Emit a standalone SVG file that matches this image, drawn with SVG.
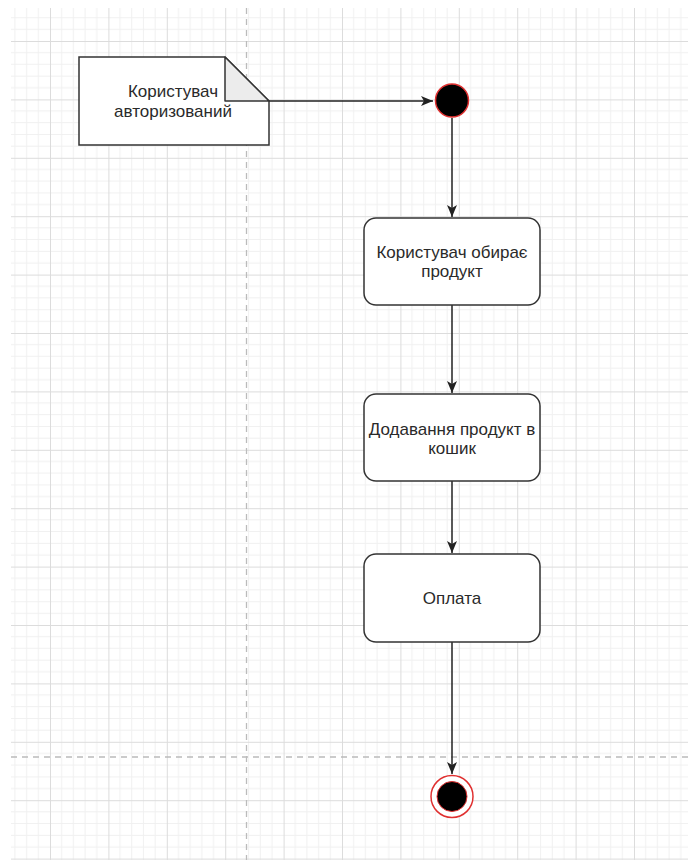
<svg xmlns="http://www.w3.org/2000/svg" width="688" height="860" viewBox="0 0 688 860">
<style>
.txt{font-family:"Liberation Sans",Arial,sans-serif;font-size:17px;fill:#2a2a2a;text-anchor:middle}
.box{fill:#fff;stroke:#333;stroke-width:1.5}
.edge{stroke:#222;stroke-width:1.5;fill:none}
.dash{stroke:#bbb;stroke-width:1.3;stroke-dasharray:6 5;fill:none}
</style>
<defs>
<pattern id="grid" patternUnits="userSpaceOnUse" x="-8.4" y="-17.4" width="58.4" height="58.4">
<path d="M11.68 0V58.4M23.36 0V58.4M35.04 0V58.4M46.72 0V58.4M0 11.68H58.4M0 23.36H58.4M0 35.04H58.4M0 46.72H58.4" stroke="#f0f0f0" stroke-width="1" fill="none"/>
<path d="M0.5 0V58.4M0 0.5H58.4" stroke="#dcdcdc" stroke-width="1" fill="none"/>
</pattern>
<marker id="arr" viewBox="0 0 12 10" refX="12" refY="5" markerWidth="12" markerHeight="10" markerUnits="userSpaceOnUse" orient="auto">
<path d="M0 0L12 5L0 10L3 5Z" fill="#222"/>
</marker>
</defs>
<rect width="688" height="860" fill="#fff"/>
<rect x="11" y="8" width="677" height="852" fill="url(#grid)"/>
<path class="dash" d="M246.5 8V860M11 757H688"/>
<g id="connectors">
<path class="edge" d="M269 101H433" marker-end="url(#arr)"/>
<path class="edge" d="M452 118V217" marker-end="url(#arr)"/>
<path class="edge" d="M452 305V393" marker-end="url(#arr)"/>
<path class="edge" d="M452 481V553" marker-end="url(#arr)"/>
<path class="edge" d="M452 642V774" marker-end="url(#arr)"/>
</g>
<g id="note">
<path d="M79 57H225L269 101V145H79Z" fill="#fff" stroke="#333" stroke-width="1.5"/>
<path d="M225 57V101H269Z" fill="#ececec" stroke="#333" stroke-width="1.5" stroke-linejoin="round"/>
<text class="txt" x="173" y="97">Користувач</text>
<text class="txt" x="173" y="117">авторизований</text>
</g>
<g id="start">
<circle cx="452" cy="100.5" r="16.5" fill="#000" stroke="#e03030" stroke-width="1.5"/>
</g>
<g id="n1">
<rect class="box" x="364" y="218" width="176" height="87" rx="12"/>
<text class="txt" x="452" y="258">Користувач обирає</text>
<text class="txt" x="452" y="277">продукт</text>
</g>
<g id="n2">
<rect class="box" x="364" y="394" width="176" height="87" rx="12"/>
<text class="txt" x="452" y="435">Додавання продукт в</text>
<text class="txt" x="452" y="454">кошик</text>
</g>
<g id="n3">
<rect class="box" x="364" y="554" width="176" height="88" rx="12"/>
<text class="txt" x="452" y="604">Оплата</text>
</g>
<g id="end">
<circle cx="452" cy="796.5" r="21" fill="#fff" stroke="#e03030" stroke-width="1.5"/>
<circle cx="452" cy="796.5" r="15" fill="#000" stroke="#e03030" stroke-width="1"/>
</g>
</svg>
